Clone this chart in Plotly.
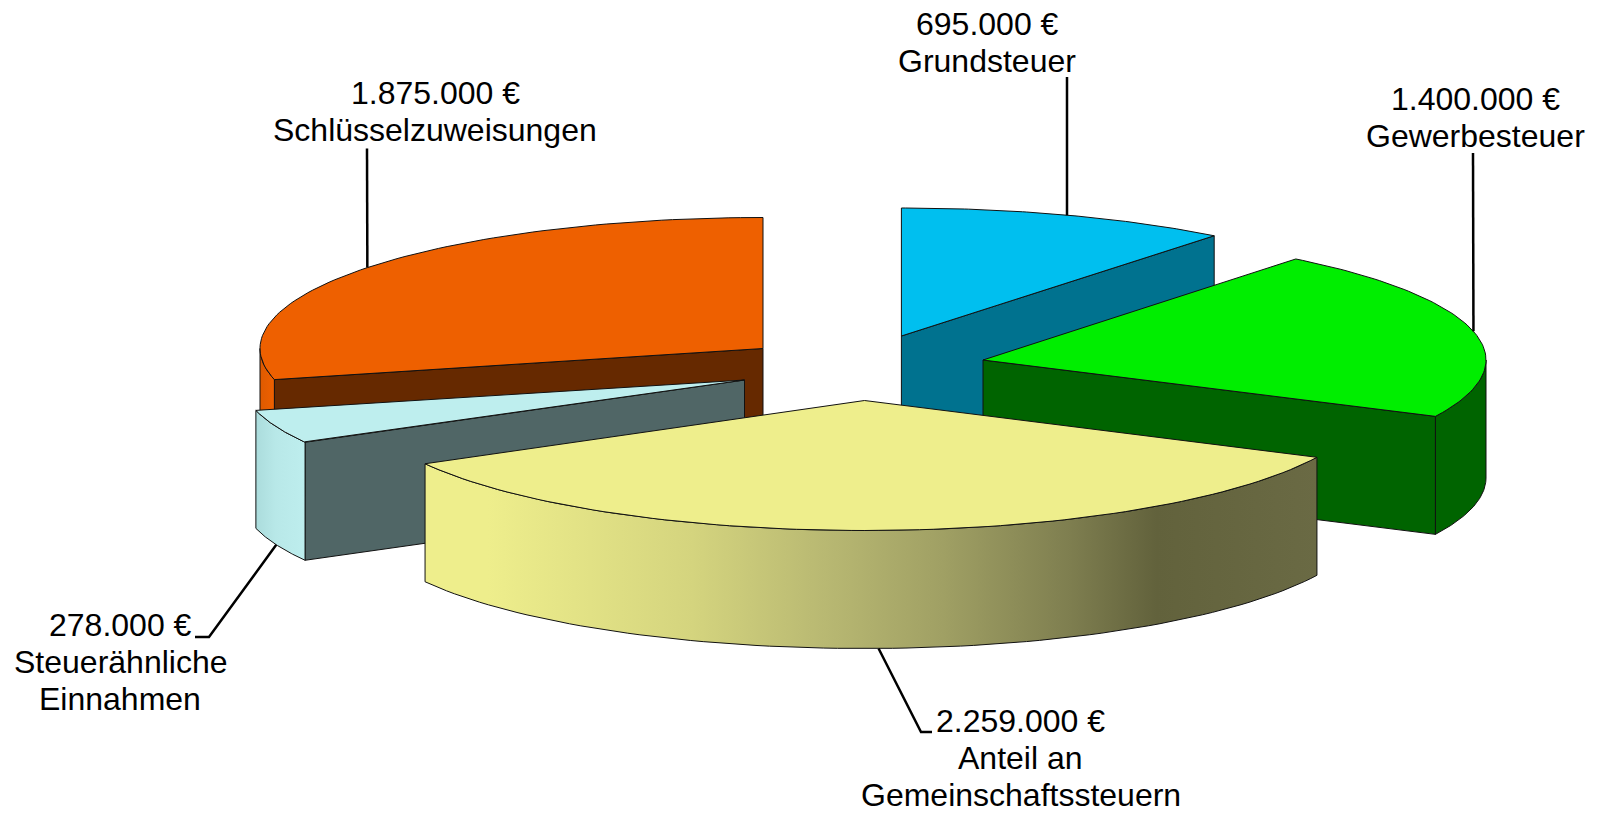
import math
import plotly.graph_objects as go

# ---- data ----
categories = ["Grundsteuer", "Gewerbesteuer", "Anteil an Gemeinschaftssteuern",
              "Steuerähnliche Einnahmen", "Schlüsselzuweisungen"]
values = [695000, 1400000, 2259000, 278000, 1875000]
value_labels = ["695.000 €", "1.400.000 €", "2.259.000 €", "278.000 €", "1.875.000 €"]
label_lines = [["Grundsteuer"], ["Gewerbesteuer"], ["Anteil an", "Gemeinschaftssteuern"],
               ["Steuerähnliche", "Einnahmen"], ["Schlüsselzuweisungen"]]

# ---- geometry / style ----
W, H = 1597, 813
RX, DEPTH = 503, 118
RY = [128, 129, 130, 128, 131]
apex = [(901.4, 336), (983, 360), (864.5, 400.5), (744.5, 380), (763, 348.5)]
top_col = ["#00BFEF", "#00EE00", "#EEEE8C", "#BEEEEE", "#EE6000"]
face_col = ["#00728F", "#006400", "#646440", "#506666", "#662900"]
wall_scale = [
    None,
    [[0, "#006400"], [1, "#006400"]],
    [[0, "#EEEE8C"], [0.07, "#EEEE8C"], [0.3, "#D4D47E"], [0.45, "#B8B872"],
     [0.58, "#A0A064"], [0.72, "#7F7F50"], [0.82, "#62623C"], [1, "#6A6A44"]],
    [[0, "#ABDCDC"], [0.4, "#B8E8E8"], [1, "#BEEEEE"]],
    [[0, "#DE5A00"], [1, "#EE6000"]],
]
label_x = [987, 1475, 1020.5, 120, 435]
label_y = [23.5, 98.8, 721, 625, 92.7]
line_gap = 37
leader_end = [[(1067, 77)], [(1473, 153)], [(921, 732), (932, 732)],
              [(209, 637), (195, 637)], [(367, 148.5)]]
leader_on_bottom = [False, False, True, True, False]
FONT = dict(family="Liberation Sans, Arial, sans-serif", size=32, color="black")
EDGE = dict(color="#111111", width=1)

total = sum(values)
fig = go.Figure()


def rim(i, a, dz=0):
    cx, cy = apex[i]
    return cx + RX * math.sin(a), cy - RY[i] * math.cos(a) + dz


def arc(i, a, b, dz=0, n=80):
    pts = [rim(i, a + (b - a) * k / n, dz) for k in range(n + 1)]
    return [p[0] for p in pts], [p[1] for p in pts]


def poly(xs, ys, color=None, scale=None):
    kw = dict(x=list(xs) + [xs[0]], y=list(ys) + [ys[0]], mode="lines", fill="toself",
              line=EDGE, hoverinfo="skip", showlegend=False)
    if scale:
        kw["fillgradient"] = dict(type="horizontal", colorscale=scale)
    else:
        kw["fillcolor"] = color
    fig.add_trace(go.Scatter(**kw))


# angles: clockwise from 12 o'clock
angles, acc = [], 0.0
for v in values:
    a = acc / total * 2 * math.pi
    acc += v
    angles.append((a, acc / total * 2 * math.pi))

# paint back to front
for i in [4, 0, 3, 1, 2]:
    a, b = angles[i]
    cx, cy = apex[i]
    # straight cut faces turned to the viewer
    if math.sin(b) > 1e-6:
        x, y = rim(i, b)
        poly([cx, x, x, cx], [cy, y, y + DEPTH, cy + DEPTH], face_col[i])
    if math.sin(a) < -1e-6:
        x, y = rim(i, a)
        poly([cx, x, x, cx], [cy, y, y + DEPTH, cy + DEPTH], face_col[i])
    # outer wall on the front half
    lo, hi = max(a, math.pi / 2), min(b, 3 * math.pi / 2)
    if hi > lo:
        xu, yu = arc(i, lo, hi)
        xd, yd = arc(i, lo, hi, DEPTH)
        poly(xu + xd[::-1], yu + yd[::-1], face_col[i], wall_scale[i])
    # top surface
    xs, ys = arc(i, a, b)
    poly([cx] + xs, [cy] + ys, top_col[i])

# leaders from the middle of each arc
for i, (a, b) in enumerate(angles):
    x0, y0 = rim(i, (a + b) / 2, DEPTH if leader_on_bottom[i] else 0)
    fig.add_trace(go.Scatter(x=[x0] + [p[0] for p in leader_end[i]],
                             y=[y0] + [p[1] for p in leader_end[i]],
                             mode="lines", line=dict(color="black", width=2.5),
                             hoverinfo="skip", showlegend=False))

# labels
for i in range(len(values)):
    for k, t in enumerate([value_labels[i]] + label_lines[i]):
        fig.add_annotation(x=label_x[i], y=label_y[i] + k * line_gap, text=t, showarrow=False,
                           xanchor="center", yanchor="middle", font=FONT)

fig.update_layout(width=W, height=H, margin=dict(l=0, r=0, t=0, b=0),
                  paper_bgcolor="white", plot_bgcolor="white", showlegend=False,
                  xaxis=dict(range=[0, W], visible=False, fixedrange=True),
                  yaxis=dict(range=[H, 0], visible=False, fixedrange=True))
fig.write_html("out.html", config=dict(displayModeBar=False),
               post_script="document.body.style.margin='0';document.documentElement.style.overflow='hidden';")
